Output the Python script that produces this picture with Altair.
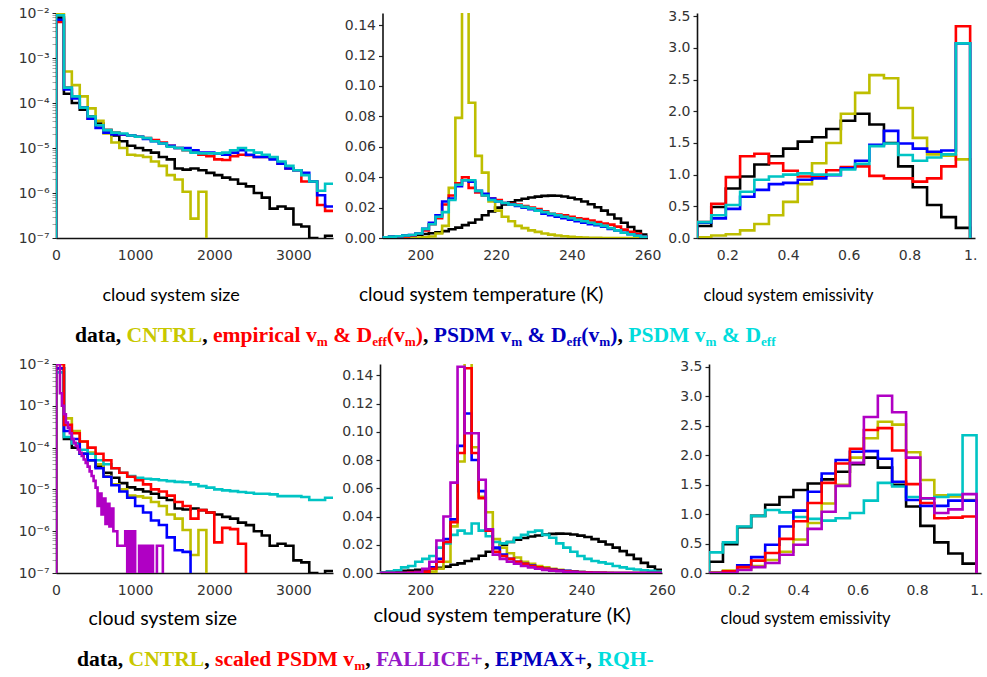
import altair as alt
import pandas as pd

# ---------------- data ----------------
size_edges = list(range(0, 3501, 100))
fine_edges = list(range(0, 1401, 25))          # finer bins used for the FALLICE+ size curve
temp_edges = [190, 191.75, 193.5, 195.25, 197, 198.75, 200.5, 202.25, 204, 205.75, 207.5,
              209.25, 211, 212.75, 214.5, 216.25, 218, 219.75, 221.5, 223.25, 225, 226.75,
              228.5, 230.25, 232, 233.75, 235.5, 237.25, 239, 240.75, 242.5, 244.25, 246,
              247.75, 249.5, 251.25, 253, 254.75, 256.5, 258.25, 260]
emis_edges = [0.1, 0.147, 0.195, 0.242, 0.289, 0.337, 0.384, 0.432, 0.479, 0.526, 0.574,
              0.621, 0.668, 0.716, 0.763, 0.811, 0.858, 0.905, 0.953, 1.0]

# cloud system size (probability density)
size_data = [7.9e-3, 1.6e-4, 1.0e-4, 7.1e-5, 5.0e-5, 3.5e-5, 2.5e-5, 1.9e-5, 1.41e-5, 1.12e-5,
             1.0e-5, 8.9e-6, 7.9e-6, 6.3e-6, 5.6e-6, 3.5e-6, 3.3e-6, 3.5e-6, 3.2e-6, 2.8e-6,
             2.5e-6, 2.2e-6, 2.0e-6, 1.6e-6, 1.4e-6, 1.0e-6, 7.9e-7, 4.5e-7, 5.0e-7, 4.5e-7,
             2.0e-7, 1.8e-7, 1.0e-7, 0, 1.12e-7]
size_cntrl = [1.0e-2, 5.0e-4, 2.5e-4, 1.4e-4, 7.6e-5, 4.0e-5, 2.1e-5, 1.32e-5, 1.0e-5, 7.1e-6,
              6.8e-6, 6.3e-6, 5.0e-6, 4.0e-6, 2.5e-6, 2.0e-6, 1.07e-6, 2.7e-7, 1.07e-6, 0,
              0, 0, 0, 0, 0, 0, 0, 0, 0, 0, 0, 0, 0, 0, 0]
size_emp = [6.3e-3, 2.2e-4, 1.4e-4, 7.9e-5, 4.5e-5, 3.2e-5, 2.5e-5, 2.2e-5, 2.0e-5, 1.9e-5,
            1.78e-5, 1.66e-5, 1.51e-5, 1.32e-5, 1.12e-5, 1.0e-5, 8.9e-6, 8.3e-6, 7.1e-6, 6.6e-6,
            5.6e-6, 5.4e-6, 6.6e-6, 7.1e-6, 6.9e-6, 6.3e-6, 6.3e-6, 6.0e-6, 4.5e-6, 3.5e-6,
            3.2e-6, 1.8e-6, 1.8e-6, 5.4e-7, 4.0e-7]
size_psdm1 = [7.1e-3, 2.0e-4, 1.26e-4, 7.9e-5, 4.5e-5, 2.8e-5, 2.2e-5, 2.0e-5, 2.0e-5, 1.9e-5,
              1.78e-5, 1.58e-5, 1.41e-5, 1.26e-5, 1.12e-5, 1.0e-5, 1.0e-5, 8.9e-6, 7.9e-6, 7.9e-6,
              7.6e-6, 7.1e-6, 7.9e-6, 8.9e-6, 7.1e-6, 6.3e-6, 6.3e-6, 5.6e-6, 4.5e-6, 3.5e-6,
              3.2e-6, 2.8e-6, 1.8e-6, 8.9e-7, 5.0e-7]
size_psdm2 = [8.9e-3, 2.2e-4, 1.4e-4, 7.9e-5, 5.0e-5, 3.2e-5, 2.5e-5, 2.2e-5, 2.1e-5, 1.9e-5,
              1.78e-5, 1.66e-5, 1.41e-5, 1.26e-5, 1.07e-5, 1.0e-5, 8.9e-6, 7.9e-6, 7.6e-6, 7.6e-6,
              7.6e-6, 7.9e-6, 8.9e-6, 1.0e-5, 8.9e-6, 7.9e-6, 7.1e-6, 6.3e-6, 5.0e-6, 4.0e-6,
              3.2e-6, 2.5e-6, 1.8e-6, 1.12e-6, 1.6e-6]
size_scaled = [1.0e-2, 3.5e-4, 2.2e-4, 1.4e-4, 1.0e-4, 7.1e-5, 5.0e-5, 3.2e-5, 2.5e-5, 2.0e-5,
               1.66e-5, 1.32e-5, 1.0e-5, 8.9e-6, 7.1e-6, 5.0e-6, 4.0e-6, 2.0e-6, 3.2e-6, 2.8e-6,
               5.4e-7, 1.2e-6, 1.12e-6, 5.0e-7, 0, 0, 0, 0, 0, 0, 0, 0, 0, 0, 0]
size_epmax = [7.9e-3, 2.5e-4, 1.6e-4, 7.1e-5, 5.0e-5, 3.2e-5, 2.0e-5, 1.26e-5, 8.9e-6, 6.3e-6,
              4.0e-6, 2.8e-6, 1.8e-6, 1.41e-6, 7.1e-7, 3.5e-7, 3.2e-7, 0, 0, 0,
              0, 0, 0, 0, 0, 0, 0, 0, 0, 0, 0, 0, 0, 0, 0]
size_fallice = [1.0e-2, 1.0e-2, 2.0e-3, 1.0e-3, 6.3e-4, 4.0e-4, 3.0e-4, 2.2e-4, 1.6e-4, 1.3e-4,
                1.1e-4, 9.0e-5, 7.5e-5, 6.3e-5, 5.2e-5, 4.3e-5, 3.5e-5, 2.7e-5, 2.1e-5, 1.6e-5,
                1.1e-5, 4.0e-6, 8.0e-6, 2.5e-6, 6.0e-6, 1.5e-6, 4.5e-6, 1.3e-6, 3.5e-6, 1.0e-6,
                1.0e-6, 4.5e-7, 4.5e-7, 4.5e-7, 4.5e-7, 1.0e-6, 0, 1.0e-6, 0, 1.0e-6,
                0, 0, 4.5e-7, 0, 4.5e-7, 0, 4.5e-7, 0, 4.5e-7, 0,
                0, 4.5e-7, 4.5e-7, 4.5e-7, 0, 0]
size_rqh = [6.3e-3, 1.8e-4, 1.26e-4, 8.9e-5, 7.1e-5, 5.0e-5, 4.0e-5, 3.2e-5, 2.5e-5, 2.1e-5,
            1.9e-5, 1.8e-5, 1.74e-5, 1.66e-5, 1.58e-5, 1.51e-5, 1.48e-5, 1.32e-5, 1.2e-5, 1.1e-5,
            1.0e-5, 9.5e-6, 9.1e-6, 8.7e-6, 8.3e-6, 7.9e-6, 7.9e-6, 7.6e-6, 6.9e-6, 6.9e-6,
            6.9e-6, 6.6e-6, 5.6e-6, 5.6e-6, 6.3e-6]

# cloud system temperature (K)
temp_data = [0.0005, 0.0008, 0.0011, 0.0015, 0.0018, 0.0022, 0.0026, 0.0031, 0.0037, 0.0045,
             0.0058, 0.0068, 0.0085, 0.0100, 0.0122, 0.0150, 0.0175, 0.0200, 0.0220, 0.0235,
             0.0248, 0.0258, 0.0266, 0.0272, 0.0277, 0.0279, 0.0278, 0.0273, 0.0265, 0.0255,
             0.0240, 0.0222, 0.0202, 0.0180, 0.0155, 0.0128, 0.0100, 0.0072, 0.0045, 0.0022]
temp_cntrl = [0, 0, 0, 0, 0, 0.0003, 0.0005, 0.001, 0.003, 0.008,
              0.033, 0.079, 0.25, 0.089, 0.054, 0.043, 0.024, 0.018, 0.014, 0.011,
              0.008, 0.0065, 0.005, 0.004, 0.003, 0.0022, 0.0016, 0.0012, 0.0008, 0.0005,
              0.0003, 0.0002, 0.0001, 0, 0, 0, 0, 0, 0, 0]
temp_emp = [0.0003, 0.0005, 0.0008, 0.001, 0.0015, 0.003, 0.005, 0.009, 0.013, 0.022,
            0.028, 0.036, 0.040, 0.033, 0.030, 0.028, 0.026, 0.025, 0.023, 0.0225,
            0.022, 0.021, 0.020, 0.019, 0.0175, 0.016, 0.0155, 0.015, 0.014, 0.013,
            0.0125, 0.0115, 0.0105, 0.0095, 0.0088, 0.0075, 0.0055, 0.004, 0.0027, 0.0012]
temp_psdm1 = [0.0005, 0.0008, 0.0012, 0.0016, 0.002, 0.003, 0.006, 0.010, 0.015, 0.024,
              0.026, 0.034, 0.038, 0.037, 0.031, 0.029, 0.026, 0.024, 0.023, 0.022,
              0.021, 0.020, 0.019, 0.018, 0.016, 0.015, 0.014, 0.013, 0.012, 0.011,
              0.010, 0.009, 0.0085, 0.0075, 0.006, 0.005, 0.0035, 0.0025, 0.0015, 0.0008]
temp_psdm2 = [0.0005, 0.0008, 0.0012, 0.0016, 0.002, 0.003, 0.006, 0.009, 0.014, 0.017,
              0.025, 0.035, 0.038, 0.038, 0.031, 0.028, 0.025, 0.024, 0.023, 0.022,
              0.0215, 0.0205, 0.0195, 0.018, 0.017, 0.016, 0.015, 0.014, 0.013, 0.012,
              0.011, 0.010, 0.009, 0.008, 0.0065, 0.005, 0.0035, 0.0025, 0.0015, 0.0008]
temp_scaled = [0, 0, 0, 0, 0.0003, 0.0006, 0.001, 0.003, 0.008, 0.022,
               0.036, 0.085, 0.145, 0.085, 0.053, 0.030, 0.015, 0.012, 0.010, 0.008,
               0.0065, 0.005, 0.004, 0.003, 0.0022, 0.0016, 0.0012, 0.0008, 0.0005, 0.0003,
               0.0002, 0.0001, 0, 0, 0, 0, 0, 0, 0, 0]
temp_epmax = [0, 0, 0, 0, 0.0003, 0.0006, 0.001, 0.004, 0.010, 0.024,
              0.038, 0.090, 0.113, 0.080, 0.058, 0.031, 0.018, 0.013, 0.010, 0.008,
              0.0065, 0.0052, 0.004, 0.003, 0.0025, 0.002, 0.0015, 0.001, 0.0006, 0.0003,
              0.0002, 0.0001, 0, 0, 0, 0, 0, 0, 0, 0]
temp_fallice = [0, 0, 0, 0, 0, 0.0003, 0.003, 0.008, 0.023, 0.040,
                0.064, 0.146, 0.099, 0.099, 0.066, 0.031, 0.013, 0.010, 0.008, 0.0065,
                0.005, 0.004, 0.003, 0.0022, 0.0016, 0.0012, 0.0008, 0.0005, 0.0003, 0.0002,
                0.0001, 0, 0, 0, 0, 0, 0, 0, 0, 0]
temp_rqh = [0.0005, 0.001, 0.002, 0.004, 0.005, 0.008, 0.010, 0.012, 0.018, 0.021,
            0.027, 0.030, 0.028, 0.035, 0.030, 0.026, 0.022, 0.021, 0.022, 0.025,
            0.027, 0.029, 0.030, 0.027, 0.025, 0.021, 0.018, 0.015, 0.012, 0.010,
            0.0085, 0.0075, 0.0065, 0.005, 0.004, 0.003, 0.0025, 0.002, 0.0015, 0.001]

# cloud system emissivity
emis_data = [0.19, 0.49, 0.78, 0.97, 1.16, 1.29, 1.41, 1.52, 1.59, 1.72,
             1.85, 1.96, 1.79, 1.50, 1.13, 0.80, 0.52, 0.33, 0.16]
emis_cntrl = [0.01, 0.04, 0.06, 0.12, 0.22, 0.36, 0.57, 0.85, 1.18, 1.50,
              1.96, 2.29, 2.57, 2.52, 2.05, 1.58, 1.32, 1.30, 1.24]
emis_emp = [0.25, 0.54, 0.96, 1.29, 1.33, 1.18, 1.06, 0.97, 0.98, 1.07,
            1.12, 1.13, 0.98, 0.94, 0.94, 0.89, 0.94, 1.13, 3.34]
emis_psdm1 = [0.24, 0.31, 0.46, 0.65, 0.76, 0.85, 0.87, 0.92, 0.94, 0.99,
              1.10, 1.22, 1.47, 1.69, 1.49, 1.41, 1.36, 1.38, 3.07]
emis_psdm2 = [0.25, 0.36, 0.52, 0.73, 0.92, 0.97, 1.00, 1.02, 1.00, 1.00,
              1.08, 1.17, 1.45, 1.49, 1.31, 1.22, 1.27, 1.32, 3.07]
emis_scaled = [0.0, 0.03, 0.10, 0.21, 0.34, 0.58, 0.88, 1.19, 1.53, 1.86,
               2.11, 2.43, 2.46, 2.08, 1.51, 1.19, 0.93, 0.94, 0.96]
emis_epmax = [0.0, 0.03, 0.13, 0.27, 0.48, 0.79, 1.06, 1.38, 1.69, 1.92,
              2.06, 2.07, 1.94, 1.55, 1.24, 1.14, 1.14, 1.23, 1.23]
emis_fallice = [0.0, 0.0, 0.05, 0.10, 0.17, 0.31, 0.48, 0.75, 1.04, 1.48,
                1.87, 2.65, 3.01, 2.73, 1.96, 1.27, 1.02, 1.08, 1.34]
emis_rqh = [0.35, 0.52, 0.79, 0.97, 1.07, 1.03, 0.95, 0.92, 0.89, 0.93,
            1.02, 1.23, 1.53, 1.47, 1.29, 1.26, 1.29, 1.33, 2.34]

top_names = ["data", "CNTRL", "empirical vm & Deff(vm)", "PSDM vm & Deff(vm)", "PSDM vm & Deff"]
bottom_names = ["data", "CNTRL", "RQH-", "EPMAX+", "scaled PSDM vm", "FALLICE+"]

# ---------------- styling ----------------
BLACK, YEL, RED, BLUE, CYAN, PURP = "#000000", "#bebe00", "#ff0000", "#0000ff", "#00c4c4", "#b000c4"
top_colors = [BLACK, YEL, RED, BLUE, CYAN]
bottom_colors = [BLACK, YEL, CYAN, BLUE, RED, PURP]
LOG_FLOOR = 1e-9


def steps_df(series, names, colors, floor, close_end):
    """series: list of (edges, values) -> step-line vertices."""
    rows = []
    for k, (name, (edges, vals)) in enumerate(zip(names, series)):
        key = f"{k}_{name}"
        pts = [(edges[0], floor)]
        for i, v in enumerate(vals):
            vv = v if v > 0 else floor
            pts.append((edges[i], vv))
            pts.append((edges[i + 1], vv))
        if close_end:
            pts.append((edges[-1], floor))
        for j, (x, y) in enumerate(pts):
            rows.append({"s": key, "c": colors[k], "x": x, "y": y, "o": j})
    return pd.DataFrame(rows)


IS_DECADE = "abs(log(datum.value)/LN10 - round(log(datum.value)/LN10)) < 0.01"
LOG_LABELS = (IS_DECADE + " ? ('10' + ['⁻⁷','⁻⁶','⁻⁵','⁻⁴','⁻³','⁻²']"
              "[round(log(datum.value)/LN10) + 7]) : ''")
MINOR_LOG = [m * 10.0 ** d for d in range(-7, -2) for m in range(2, 10)]


def panel(df, xdom, ydom, width, height, log, xvals, xlabel_expr,
          yvals, yfmt, title, tx, ty, tsize):
    xaxis = alt.Axis(values=xvals, labelExpr=xlabel_expr, title=title, titleX=tx, titleY=ty,
                     titleAlign="left", titleBaseline="alphabetic", titleFontSize=tsize,
                     labelPadding=10, labelFlush=False, labelOverlap=False)
    if log:
        yscale = alt.Scale(type="log", domain=ydom, nice=False)
        yaxis = alt.Axis(values=yvals + MINOR_LOG, labelExpr=LOG_LABELS, title=None,
                         labelPadding=3, labelOverlap=False, labelFlush=False,
                         ticks=True, tickSize=4, tickWidth=1,
                         tickColor={"condition": {"test": IS_DECADE, "value": "#222222"},
                                    "value": "#a8a8a8"})
    else:
        yscale = alt.Scale(domain=ydom, nice=False, zero=False)
        yaxis = alt.Axis(values=yvals, format=yfmt, title=None, labelPadding=3,
                         labelOverlap=False, labelFlush=False,
                         ticks=True, tickSize=4, tickWidth=1.2, tickColor="#222222")
    return alt.Chart(df).mark_line(clip=True, strokeWidth=2.6, strokeJoin="miter").encode(
        x=alt.X("x:Q", scale=alt.Scale(domain=xdom, nice=False, zero=False), axis=xaxis),
        y=alt.Y("y:Q", scale=yscale, axis=yaxis),
        color=alt.Color("c:N", scale=None, legend=None),
        detail="s:N",
        order=alt.Order("o:Q"),
    ).properties(width=width, height=height)


size_vals = [1e-7, 1e-6, 1e-5, 1e-4, 1e-3, 1e-2]
size_x = [0, 1000, 2000, 3000]
temp_x = [200, 220, 240, 260]
emis_x = [0.2, 0.4, 0.6, 0.8, 1.0]
temp_y = [0, 0.02, 0.04, 0.06, 0.08, 0.10, 0.12, 0.14]
emis_y = [0, 0.5, 1.0, 1.5, 2.0, 2.5, 3.0, 3.5]
INT_LBL = "format(datum.value, 'd')"
EMIS_LBL = "datum.value > 0.99 ? '1.' : format(datum.value, '.1f')"

TOP_H, BOT_H = 225, 209
S, T, E, F = size_edges, temp_edges, emis_edges, fine_edges
top_s = [(S, size_data), (S, size_cntrl), (S, size_emp), (S, size_psdm1), (S, size_psdm2)]
top_t = [(T, temp_data), (T, temp_cntrl), (T, temp_emp), (T, temp_psdm1), (T, temp_psdm2)]
top_e = [(E, emis_data), (E, emis_cntrl), (E, emis_emp), (E, emis_psdm1), (E, emis_psdm2)]
bot_s = [(S, size_data), (S, size_cntrl), (S, size_rqh), (S, size_epmax), (S, size_scaled), (F, size_fallice)]
bot_t = [(T, temp_data), (T, temp_cntrl), (T, temp_rqh), (T, temp_epmax), (T, temp_scaled), (T, temp_fallice)]
bot_e = [(E, emis_data), (E, emis_cntrl), (E, emis_rqh), (E, emis_epmax), (E, emis_scaled), (E, emis_fallice)]

p1 = panel(steps_df(top_s, top_names, top_colors, LOG_FLOOR, False),
           [0, 3500], [1e-7, 1e-2], 277, TOP_H, True, size_x, INT_LBL,
           size_vals, None, "cloud system size", 46, 62, 18)
p2 = panel(steps_df(top_t, top_names, top_colors, 0, True),
           [190, 260], [0, 0.148], 265, TOP_H, False, temp_x, INT_LBL,
           temp_y, ".2f", "cloud system temperature (K)", -24, 62, 19)
p3 = panel(steps_df(top_e, top_names, top_colors, 0, True),
           [0.1, 1.016], [0, 3.55], 278, TOP_H, False, emis_x, EMIS_LBL,
           emis_y, ".1f", "cloud system emissivity", 6, 62, 16.5)

p4 = panel(steps_df(bot_s, bottom_names, bottom_colors, LOG_FLOOR, False),
           [0, 3500], [1e-7, 1e-2], 277, BOT_H, True, size_x, INT_LBL,
           size_vals, None, "cloud system size", 32, 51, 19.5)
p5 = panel(steps_df(bot_t, bottom_names, bottom_colors, 0, True),
           [190, 260], [0, 0.148], 282, BOT_H, False, temp_x, INT_LBL,
           temp_y, ".2f", "cloud system temperature (K)", -7, 48, 20)
p6 = panel(steps_df(bot_e, bottom_names, bottom_colors, 0, True),
           [0.1, 1.015], [0, 3.55], 272, BOT_H, False, emis_x, EMIS_LBL,
           emis_y, ".1f", "cloud system emissivity", 11, 50, 16.5)

# ---------------- legend lines (rich text) ----------------
TIMES_BOLD = {' ': 250, ',': 250, '&': 833, '(': 333, ')': 333, '+': 570, '-': 333,
              'a': 500, 'b': 556, 'c': 444, 'd': 556, 'e': 444, 'f': 333, 'g': 500, 'h': 556,
              'i': 278, 'l': 278, 'm': 833, 'n': 556, 'o': 500, 'p': 556, 'r': 444, 's': 389,
              't': 333, 'u': 556, 'v': 500, 'y': 500,
              'A': 722, 'C': 722, 'D': 722, 'E': 667, 'F': 611, 'H': 778, 'I': 389, 'L': 667,
              'M': 944, 'N': 722, 'P': 611, 'Q': 778, 'R': 722, 'S': 556, 'T': 667, 'X': 722}
T_YEL, T_BLUE, T_CYAN, T_PURP = "#c8c800", "#0000c0", "#00dcdc", "#9418c8"

legend1_parts = [("data", BLACK, "n"), (", ", BLACK, "n"), ("CNTRL", T_YEL, "n"), (", ", BLACK, "n"),
                 ("empirical v", RED, "n"), ("m", RED, "s"), (" & D", RED, "n"), ("eff", RED, "s"),
                 ("(v", RED, "n"), ("m", RED, "s"), (")", RED, "n"), (", ", BLACK, "n"),
                 ("PSDM v", T_BLUE, "n"), ("m", T_BLUE, "s"), (" & D", T_BLUE, "n"), ("eff", T_BLUE, "s"),
                 ("(v", T_BLUE, "n"), ("m", T_BLUE, "s"), (")", T_BLUE, "n"), (", ", BLACK, "n"),
                 ("PSDM v", T_CYAN, "n"), ("m", T_CYAN, "s"), (" & D", T_CYAN, "n"), ("eff", T_CYAN, "s")]
legend2_parts = [("data", BLACK, "n"), (", ", BLACK, "n"), ("CNTRL", T_YEL, "n"), (", ", BLACK, "n"),
                 ("scaled PSDM v", RED, "n"), ("m", RED, "s"), (", ", BLACK, "n"),
                 ("FALLICE+", T_PURP, "n"), (", ", BLACK, "n"), ("EPMAX+", T_BLUE, "n"),
                 (", ", BLACK, "n"), ("RQH-", T_CYAN, "n")]


def legend_chart(parts, x0, base, height, fs=21.6, sub=13.2):
    rows = []
    cur = x0
    for text, color, kind in parts:
        size = fs if kind == "n" else sub
        lead = len(text) - len(text.lstrip(" "))
        rows.append({"t": text.strip(" "), "c": color, "z": size,
                     "px": cur + lead * TIMES_BOLD[" "] * size / 1000.0,
                     "py": base + (0 if kind == "n" else 3.5)})
        cur += sum(TIMES_BOLD[ch] for ch in text) * size / 1000.0
    df = pd.DataFrame(rows)
    return alt.Chart(df).mark_text(align="left", baseline="alphabetic", font="Liberation Serif",
                                   fontWeight="bold").encode(
        x=alt.X("px:Q", scale=None), y=alt.Y("py:Q", scale=None),
        text="t:N", color=alt.Color("c:N", scale=None), size=alt.Size("z:Q", scale=None),
    ).properties(width=10, height=height)


leg1 = legend_chart(legend1_parts, 19, 38, 53)
leg2 = legend_chart(legend2_parts, 21, 38, 44)

row1 = alt.hconcat(p1, p2, p3, spacing=49.5, bounds="flush")
row2 = alt.hconcat(p4, p5, p6, spacing=47, bounds="flush")

chart = alt.vconcat(row1, leg1, row2, leg2, spacing=0).properties(
    padding={"left": 18, "top": 6, "right": 0, "bottom": 0},
    background="white",
).configure_view(strokeWidth=0).configure_axis(
    domainColor="#111111", domainWidth=1.6, ticks=False, grid=False,
    labelFont="DejaVu Sans", labelFontSize=14, labelColor="#333333",
    titleFont="Lato", titleFontWeight="normal", titleColor="#000000",
)

chart.save("out.html", embed_options={"renderer": "svg", "actions": False})
